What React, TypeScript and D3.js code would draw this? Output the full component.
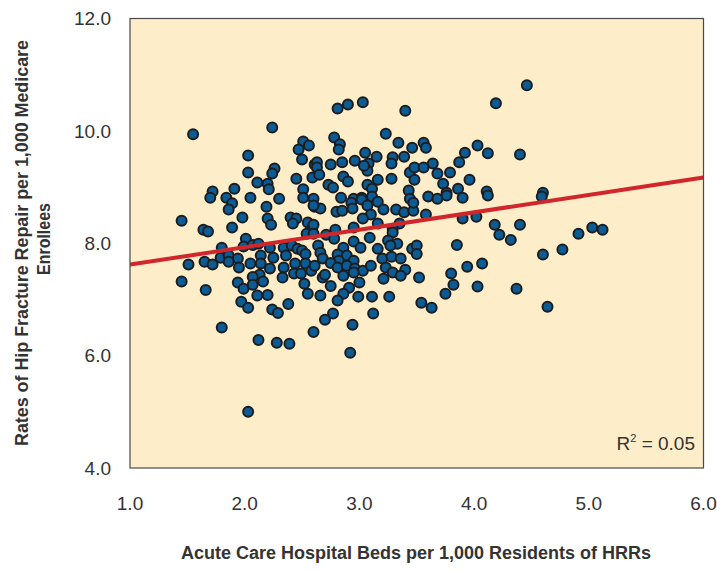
import React from "react";
import * as d3 from "d3";

const hospitalBeds: number[] = [
  1.55, 2.24, 2.51, 2.47, 2.56, 2.50, 2.03, 2.03, 2.26, 2.24, 2.11, 2.20, 2.21, 2.45, 2.61, 2.59, 2.51, 1.91, 1.72, 1.70,
  1.84, 2.05, 2.30, 2.51, 2.81, 2.90, 3.03, 3.40, 3.23, 2.78, 2.83, 2.82, 3.34, 3.46, 3.56, 3.58, 3.05, 3.15, 3.29, 3.39,
  3.28, 2.63, 2.63, 2.75, 2.85, 2.96, 3.08, 3.07, 3.04, 2.65, 2.86, 2.90, 2.73, 2.77, 3.16, 3.28, 3.07, 3.11, 3.44, 3.48,
  3.56, 3.64, 3.68, 3.79, 3.87, 3.48, 3.73, 3.76, 3.86, 3.43, 3.60, 3.68, 2.84, 2.95, 3.02, 3.11, 2.60, 4.46, 4.19, 4.03,
  3.92, 4.12, 4.40, 3.96, 4.11, 3.90, 4.60, 4.59, 1.89, 1.86, 2.19, 2.61, 1.45, 1.98, 2.20, 2.23, 2.40, 2.45, 2.42, 2.55,
  2.59, 1.64, 1.68, 1.89, 2.54, 2.01, 1.80, 1.99, 2.07, 2.12, 2.22, 2.34, 2.41, 2.46, 2.50, 1.79, 1.86, 1.94, 2.14, 2.25,
  2.36, 2.53, 1.51, 1.65, 1.72, 1.86, 1.95, 2.05, 2.14, 2.22, 2.34, 2.44, 2.53, 2.43, 2.49, 2.58, 2.33, 2.13, 2.07, 1.45,
  1.66, 1.94, 1.99, 2.07, 2.16, 2.11, 2.20, 2.52, 2.55, 1.97, 2.03, 2.24, 2.29, 2.38, 1.80, 2.93, 3.02, 3.16, 2.66, 2.60,
  2.80, 2.85, 2.94, 3.07, 3.10, 3.03, 3.21, 3.32, 3.39, 3.47, 3.58, 3.44, 3.47, 3.76, 2.60, 3.16, 3.35, 3.29, 3.29, 2.95,
  2.79, 2.71, 2.78, 2.60, 3.09, 2.95, 3.01, 3.16, 3.25, 3.33, 3.27, 2.64, 2.66, 2.86, 2.81, 2.89, 2.95, 2.82, 2.68, 2.75,
  2.61, 2.81, 2.89, 2.96, 3.03, 3.10, 3.20, 3.28, 3.36, 3.23, 3.29, 3.40, 3.36, 3.21, 3.46, 3.50, 3.50, 3.85, 3.52, 3.80,
  3.82, 3.75, 2.68, 2.70, 2.75, 2.86, 2.95, 3.00, 2.91, 2.86, 2.81, 2.66, 2.99, 3.11, 3.26, 3.54, 3.63, 2.77, 2.70, 3.12,
  2.94, 4.12, 3.90, 4.02, 4.18, 4.40, 4.22, 4.32, 4.60, 4.77, 4.91, 5.03, 5.12, 3.94, 4.07, 4.03, 4.37, 4.64, 2.12, 2.28,
  2.39, 2.60, 2.03, 2.92,
];

const hipRepairRates: number[] = [
  9.94, 10.06, 9.81, 9.67, 9.74, 9.49, 9.56, 9.26, 9.33, 9.24, 9.08, 9.06, 8.96, 9.15, 9.40, 9.17, 8.96, 8.97, 8.92, 8.81,
  8.81, 8.81, 8.79, 8.81, 10.40, 10.47, 10.51, 10.36, 9.95, 9.88, 9.76, 9.67, 9.79, 9.70, 9.79, 9.70, 9.61, 9.54, 9.53, 9.54,
  9.42, 9.44, 9.35, 9.40, 9.44, 9.47, 9.42, 9.29, 9.38, 9.22, 9.19, 9.10, 9.04, 8.99, 9.13, 9.15, 9.04, 8.97, 9.26, 9.35,
  9.35, 9.42, 9.24, 9.26, 9.44, 9.13, 9.06, 8.90, 8.97, 8.94, 8.83, 8.79, 8.81, 8.79, 8.81, 8.83, 8.79, 10.81, 10.49, 9.74,
  9.61, 9.60, 9.58, 9.13, 8.92, 8.81, 8.90, 8.83, 8.71, 8.60, 8.65, 8.65, 8.40, 8.46, 8.44, 8.33, 8.46, 8.44, 8.35, 8.37,
  8.28, 8.24, 8.21, 8.28, 8.17, 8.08, 7.92, 7.94, 7.97, 7.99, 7.92, 7.92, 7.96, 7.90, 7.87, 7.74, 7.78, 7.73, 7.78, 7.74,
  7.78, 7.81, 7.62, 7.67, 7.62, 7.67, 7.57, 7.64, 7.64, 7.55, 7.57, 7.64, 7.64, 7.46, 7.46, 7.51, 7.39, 7.44, 7.40, 7.32,
  7.17, 7.30, 7.19, 7.26, 7.32, 7.07, 7.08, 7.28, 7.10, 6.96, 6.85, 6.82, 6.76, 6.92, 6.50, 8.72, 8.78, 8.74, 8.62, 8.67,
  8.56, 8.58, 8.62, 8.67, 8.51, 8.44, 8.60, 8.60, 8.55, 8.58, 8.51, 8.79, 8.72, 8.85, 8.33, 8.35, 8.35, 8.26, 8.19, 8.28,
  8.24, 8.15, 8.08, 8.17, 8.10, 8.03, 7.92, 7.90, 8.05, 7.99, 7.96, 7.96, 7.83, 7.92, 7.80, 7.78, 7.69, 7.69, 7.73, 7.65,
  7.60, 7.57, 7.60, 7.55, 7.51, 7.60, 7.73, 7.76, 7.73, 7.57, 7.48, 7.53, 7.42, 7.37, 7.90, 7.96, 7.81, 7.97, 7.39, 7.46,
  7.26, 7.10, 7.39, 7.44, 7.24, 7.42, 7.48, 7.30, 7.21, 7.10, 6.98, 7.07, 7.05, 7.05, 7.05, 6.94, 6.85, 6.75, 6.64, 6.75,
  6.55, 8.85, 8.44, 8.47, 8.33, 8.33, 8.15, 8.06, 7.80, 7.89, 8.17, 8.28, 8.24, 7.58, 7.64, 7.23, 7.19, 6.87, 6.28, 6.23,
  6.21, 6.42, 5.00, 6.05,
];

const xTicks: number[] = [1, 2, 3, 4, 5, 6];
const yTicks: number[] = [4, 6, 8, 10, 12];
const trendIntercept = 7.31;
const trendSlope = 0.31;
const trendRange: number[] = [1, 6];
const rSquared = "0.05";

const xTitle = "Acute Care Hospital Beds per 1,000 Residents of HRRs";
const yTitle1 = "Rates of Hip Fracture Repair per 1,000 Medicare";
const yTitle2 = "Enrollees";

export default function App() {
  const W = 717;
  const H = 571;
  const x = d3.scaleLinear().domain([1, 6]).range([130, 703.5]);
  const y = d3.scaleLinear().domain([4, 12]).range([468, 18.5]);
  const points = hospitalBeds.map((b, i) => ({ b, r: hipRepairRates[i] }));
  const line = d3
    .line<number>()
    .x((d) => x(d))
    .y((d) => y(trendIntercept + trendSlope * d));
  const font = "'Liberation Sans', Arial, Helvetica, sans-serif";
  const narrow = "'Liberation Sans Narrow', 'Liberation Sans', Arial, sans-serif";
  const [x0, x1] = x.range();
  const [y0, y1] = y.range();

  return (
    <div style={{ position: "fixed", left: 0, top: 0, width: W, height: H, background: "#fff" }}>
      <svg width={W} height={H} style={{ display: "block" }}>
        <defs>
          <clipPath id="plotclip">
            <rect x={x0} y={y1} width={x1 - x0} height={y0 - y1} />
          </clipPath>
        </defs>
        <rect x={x0} y={y1} width={x1 - x0} height={y0 - y1} fill="#fdeec9" />
        <g>
          {points.map((p, i) => (
            <circle
              key={i}
              cx={x(p.b)}
              cy={y(p.r)}
              r={5}
              fill="#0b5b94"
              stroke="#1d1d1f"
              strokeWidth={2}
            />
          ))}
        </g>
        <path
          d={line(trendRange) || ""}
          stroke="#d1262b"
          strokeWidth={4}
          fill="none"
          clipPath="url(#plotclip)"
        />
        <rect
          x={x0}
          y={y1}
          width={x1 - x0}
          height={y0 - y1}
          fill="none"
          stroke="#4a4a4a"
          strokeWidth={1.2}
        />
        {yTicks.map((t) => (
          <text
            key={"y" + t}
            x={111}
            y={y(t)}
            dy="0.36em"
            textAnchor="end"
            fontFamily={font}
            fontSize={19}
            fill="#333"
          >
            {t.toFixed(1)}
          </text>
        ))}
        {xTicks.map((t) => (
          <text
            key={"x" + t}
            x={x(t)}
            y={510}
            textAnchor="middle"
            fontFamily={font}
            fontSize={19}
            fill="#333"
          >
            {t.toFixed(1)}
          </text>
        ))}
        <text
          x={416}
          y={559}
          textAnchor="middle"
          fontFamily={narrow}
          fontWeight="bold"
          fontSize={18}
          fill="#333"
          textLength={470}
          lengthAdjust="spacingAndGlyphs"
        >
          {xTitle}
        </text>
        <text
          transform={`translate(28,${243}) rotate(-90)`}
          textAnchor="middle"
          fontFamily={narrow}
          fontWeight="bold"
          fontSize={18}
          fill="#333"
          textLength={406}
          lengthAdjust="spacingAndGlyphs"
        >
          {yTitle1}
        </text>
        <text
          transform={`translate(50,${239}) rotate(-90)`}
          textAnchor="middle"
          fontFamily={narrow}
          fontWeight="bold"
          fontSize={18}
          fill="#333"
          textLength={72}
          lengthAdjust="spacingAndGlyphs"
        >
          {yTitle2}
        </text>
        <text x={695} y={450} textAnchor="end" fontFamily={font} fontSize={19} fill="#333">
          R<tspan dy={-8} fontSize={11}>2</tspan>
          <tspan dy={8}> = {rSquared}</tspan>
        </text>
      </svg>
    </div>
  );
}
